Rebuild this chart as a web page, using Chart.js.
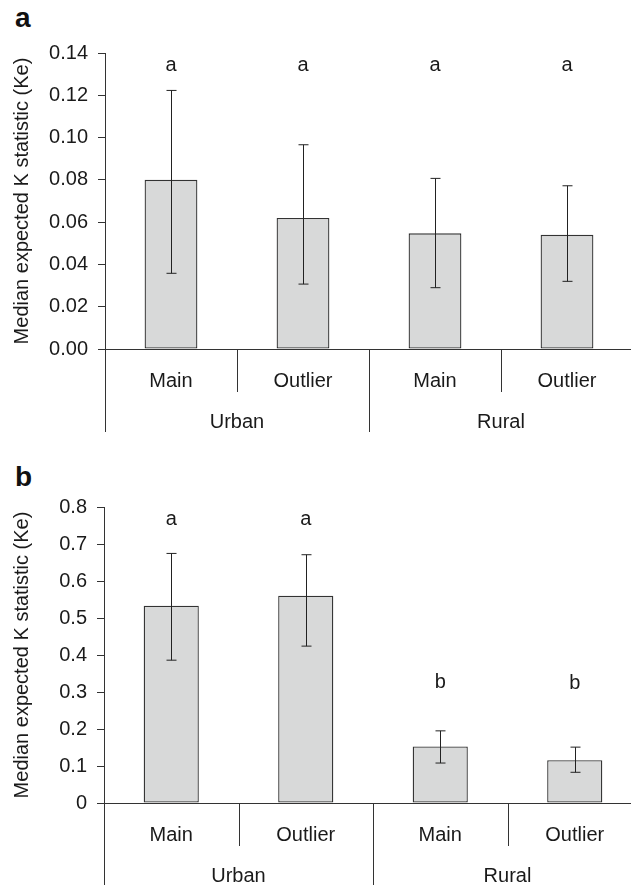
<!DOCTYPE html>
<html>
<head>
<meta charset="utf-8">
<script src="https://cdn.jsdelivr.net/npm/chart.js@4.4.1/dist/chart.umd.min.js"></script>
<style>
    html, body { margin: 0; padding: 0; background: #fff; width: 631px; height: 885px; overflow: hidden; }
    .wrap { position: absolute; left: 0; }
    #wrapA { top: 0; width: 640px; height: 440px; }
    #wrapB { top: 440px; width: 650px; height: 445px; }
    .tag { position: absolute; left: 15px; font: bold 28px "Liberation Sans", Arial, sans-serif; line-height: 28px; color: #111; }
</style>
</head>
<body>
<div class="tag" style="top:4px">a</div>
<div class="tag" style="top:463px">b</div>
<div class="wrap" id="wrapA"><canvas id="chartA"></canvas></div>
<div class="wrap" id="wrapB"><canvas id="chartB"></canvas></div>
<script>
// shared categories
const categories = ["Main", "Outlier", "Main", "Outlier"];
const groupOf = [0, 0, 1, 1];
const groupLabels = ["Urban", "Rural"];

// panel a
const yTicksA = [0, 0.02, 0.04, 0.06, 0.08, 0.10, 0.12, 0.14];
const keA = [0.080, 0.062, 0.0547, 0.054];
const keLowA = [0.0358, 0.0307, 0.029, 0.032];
const keHighA = [0.1223, 0.0966, 0.0807, 0.0772];
const lettersA = ["a", "a", "a", "a"];
const letterAtA = [0.134, 0.134, 0.134, 0.134];

// panel b
const yTicksB = [0, 0.1, 0.2, 0.3, 0.4, 0.5, 0.6, 0.7, 0.8];
const keB = [0.533, 0.560, 0.153, 0.1155];
const keLowB = [0.386, 0.424, 0.108, 0.083];
const keHighB = [0.6745, 0.671, 0.195, 0.151];
const lettersB = ["a", "a", "b", "b"];
const letterAtB = [0.766, 0.766, 0.325, 0.322];

const FONT = '"Liberation Sans", Arial, sans-serif';
const INK = "#1a1a1a";

// error bars, significance letters, category separators and group labels
const extrasPlugin = {
    id: "extras",
    afterDraw(chart, args, opts) {
        const { ctx, chartArea } = chart;
        const x = chart.scales.x;
        const y = chart.scales.y;

        ctx.save();
        ctx.strokeStyle = "#222";
        ctx.lineWidth = 1;

        // error bars
        opts.low.forEach((lo, i) => {
            const px = Math.round(x.getPixelForValue(i)) + 0.5;
            const yLo = y.getPixelForValue(lo);
            const yHi = y.getPixelForValue(opts.high[i]);
            ctx.beginPath();
            ctx.moveTo(px, yLo);
            ctx.lineTo(px, yHi);
            ctx.moveTo(px - 5, yHi);
            ctx.lineTo(px + 5, yHi);
            ctx.moveTo(px - 5, yLo);
            ctx.lineTo(px + 5, yLo);
            ctx.stroke();
        });

        // y axis continues below the baseline
        const axisX = Math.round(chartArea.left) + 0.5;
        ctx.strokeStyle = "#333";
        ctx.beginPath();
        ctx.moveTo(axisX, chartArea.bottom);
        ctx.lineTo(axisX, chartArea.bottom + 83);
        ctx.stroke();

        // separators between categories
        for (let i = 0; i < categories.length - 1; i++) {
            const sx = Math.round((x.getPixelForValue(i) + x.getPixelForValue(i + 1)) / 2) + 0.5;
            const len = groupOf[i] !== groupOf[i + 1] ? 83 : 43;
            ctx.beginPath();
            ctx.moveTo(sx, chartArea.bottom);
            ctx.lineTo(sx, chartArea.bottom + len);
            ctx.stroke();
        }

        ctx.fillStyle = INK;
        ctx.font = "20px " + FONT;
        ctx.textAlign = "center";
        ctx.textBaseline = "middle";

        // significance letters
        opts.letters.forEach((t, i) => {
            ctx.fillText(t, x.getPixelForValue(i), y.getPixelForValue(opts.letterAt[i]));
        });

        // group labels
        groupLabels.forEach((g, gi) => {
            const idx = categories.map((c, i) => i).filter(i => groupOf[i] === gi);
            const cx = idx.reduce((s, i) => s + x.getPixelForValue(i), 0) / idx.length;
            ctx.fillText(g, cx, chartArea.bottom + 73);
        });

        ctx.restore();
    }
};

function makeChart(canvasId, values, low, high, letters, letterAt, yTicks, fmt, barPct, yAxisWidth, xAxisHeight, pad) {
    return new Chart(document.getElementById(canvasId), {
        type: "bar",
        data: {
            labels: categories,
            datasets: [{
                data: values,
                backgroundColor: "#d8d9d9",
                borderColor: "#333",
                borderWidth: 1.3,
                borderSkipped: false,
                categoryPercentage: 1,
                barPercentage: barPct
            }]
        },
        options: {
            responsive: true,
            maintainAspectRatio: false,
            animation: false,
            layout: { padding: pad },
            plugins: {
                legend: { display: false },
                tooltip: { enabled: false },
                extras: { low: low, high: high, letters: letters, letterAt: letterAt }
            },
            scales: {
                x: {
                    grid: { display: false, drawTicks: false },
                    border: { display: true, color: "#333", width: 1 },
                    ticks: { color: INK, padding: 20, font: { family: FONT, size: 20 } },
                    afterFit: s => { s.height = xAxisHeight; }
                },
                y: {
                    min: yTicks[0],
                    max: yTicks[yTicks.length - 1],
                    grid: { drawOnChartArea: false, drawTicks: true, tickLength: 7, color: "#333" },
                    border: { display: true, color: "#333", width: 1 },
                    ticks: {
                        stepSize: yTicks[1] - yTicks[0],
                        padding: 10,
                        color: INK,
                        font: { family: FONT, size: 20 },
                        callback: fmt
                    },
                    title: {
                        display: true,
                        text: "Median expected K statistic (Ke)",
                        color: INK,
                        font: { family: FONT, size: 20 },
                        padding: { top: 10, bottom: 0 }
                    },
                    afterFit: s => { s.width = yAxisWidth; }
                }
            }
        },
        plugins: [extrasPlugin]
    });
}

makeChart("chartA", keA, keLowA, keHighA, lettersA, letterAtA, yTicksA,
    v => Number(v).toFixed(2), 0.40, 105, 91,
    { top: 53, right: 7, bottom: 0, left: 0 });

makeChart("chartB", keB, keLowB, keHighB, lettersB, letterAtB, yTicksB,
    v => (v === 0 ? "0" : Number(v).toFixed(1)), 0.41, 104, 82,
    { top: 67, right: 8, bottom: 0, left: 0 });
</script>
</body>
</html>
